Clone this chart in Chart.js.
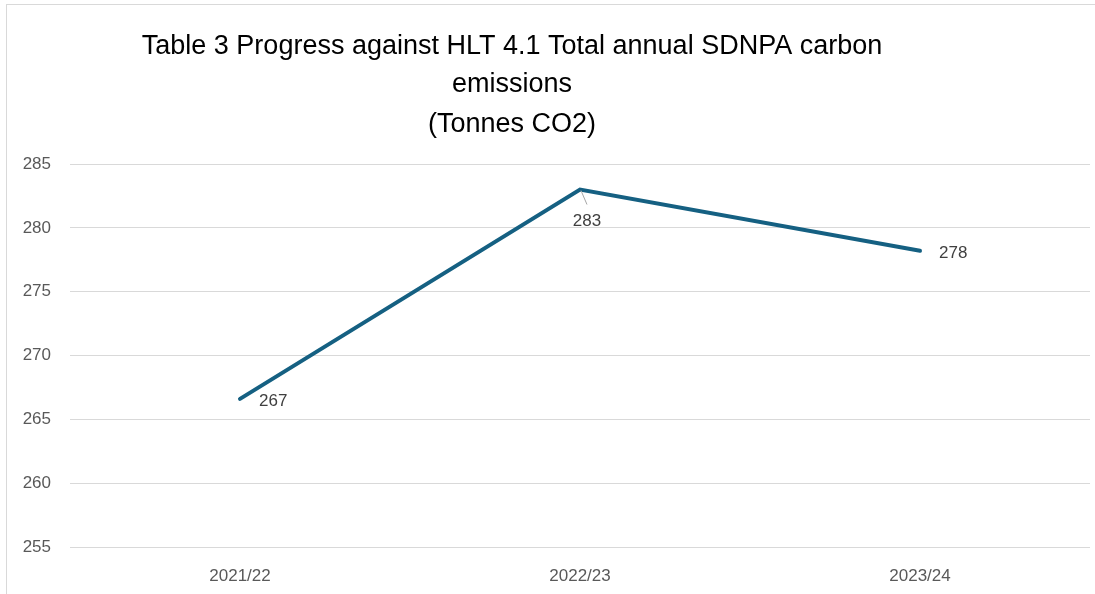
<!DOCTYPE html>
<html>
<head>
<meta charset="utf-8">
<script src="https://cdn.jsdelivr.net/npm/chart.js@4.4.0/dist/chart.umd.min.js"></script>
<style>
  html, body { margin: 0; padding: 0; background: #fff; }
  #wrap { position: relative; width: 1095px; height: 594px; overflow: hidden; }
  #frame { position: absolute; left: 6px; top: 4px; width: 1100px; height: 600px; border: 1px solid #d9d9d9; box-sizing: border-box; pointer-events: none; }
  canvas { position: absolute; left: 0; top: 0; }
</style>
</head>
<body>
<div id="wrap">
  <canvas id="myChart" width="1095" height="594"></canvas>
  <div id="frame"></div>
</div>
<script>
    var years = ['2021/22', '2022/23', '2023/24']
    var emissions = [266.6, 283.0, 278.2]
    var emissionLabels = ['267', '283', '278']
    var yTicks = [255, 260, 265, 270, 275, 280, 285]
    var titleLines = ['Table 3 Progress against HLT 4.1 Total annual SDNPA carbon', 'emissions', '(Tonnes CO2)']

    // title drawn by hand so it can sit a little left of centre like the original
    var titlePlugin = {
        id: 'titleText',
        afterDraw: function(chart) {
            var ctx = chart.ctx
            ctx.save()
            ctx.fillStyle = '#000'
            ctx.font = '27px "Liberation Sans Narrow", "Liberation Sans", Arial, sans-serif'
            ctx.textAlign = 'center'
            ctx.textBaseline = 'middle'
            var ys = [47, 85, 125]
            titleLines.forEach(function(t, i) {
                ctx.fillText(t, 512, ys[i])
            })
            ctx.restore()
        }
    }

    // point value labels, 283 gets a little leader line
    var valuePlugin = {
        id: 'valueLabels',
        afterDatasetsDraw: function(chart) {
            var ctx = chart.ctx
            var meta = chart.getDatasetMeta(0)
            ctx.save()
            ctx.font = '17px "Liberation Sans", Arial, sans-serif'
            ctx.fillStyle = '#404040'
            ctx.textBaseline = 'middle'
            meta.data.forEach(function(pt, i) {
                var txt = emissionLabels[i]
                if (i == 1) {
                    ctx.strokeStyle = '#a6a6a6'
                    ctx.lineWidth = 1
                    ctx.beginPath()
                    ctx.moveTo(pt.x + 1, pt.y + 1)
                    ctx.lineTo(pt.x + 7, pt.y + 15)
                    ctx.stroke()
                    ctx.textAlign = 'center'
                    ctx.fillText(txt, pt.x + 7, pt.y + 32)
                } else {
                    ctx.textAlign = 'left'
                    ctx.fillText(txt, pt.x + 19, pt.y + 2)
                }
            })
            ctx.restore()
        }
    }

    var ctx = document.getElementById('myChart').getContext('2d');
    var myChart = new Chart(ctx, {
        type: 'line',
        data: {
            labels: years,
            datasets: [{
                label: 'Tonnes CO2',
                data: emissions,
                fill: false,
                tension: 0,
                borderColor: '#156082',
                borderWidth: 4,
                borderCapStyle: 'round',
                pointRadius: 0,
                pointHoverRadius: 0
            }]
        },
        options: {
            responsive: false,
            animation: false,
            layout: {
                padding: { top: 164, left: 0, right: 5, bottom: 0 }
            },
            plugins: {
                legend: { display: false },
                title: { display: false },
                tooltip: { enabled: false }
            },
            scales: {
                x: {
                    offset: true,
                    grid: { display: false, drawTicks: false },
                    border: { display: false },
                    ticks: {
                        padding: 19,
                        color: '#595959',
                        font: { family: '"Liberation Sans", Arial, sans-serif', size: 17 }
                    },
                    afterFit: function(scale) { scale.height = 47 }
                },
                y: {
                    min: 255,
                    max: 285,
                    afterBuildTicks: function(scale) {
                        scale.ticks = yTicks.map(function(v) { return { value: v } })
                    },
                    grid: { color: '#d9d9d9', lineWidth: 1, drawTicks: false },
                    border: { display: false },
                    ticks: {
                        padding: 19,
                        color: '#595959',
                        font: { family: '"Liberation Sans", Arial, sans-serif', size: 17 }
                    },
                    afterFit: function(scale) { scale.width = 70 }
                }
            }
        },
        plugins: [titlePlugin, valuePlugin]
    });
</script>
</body>
</html>
